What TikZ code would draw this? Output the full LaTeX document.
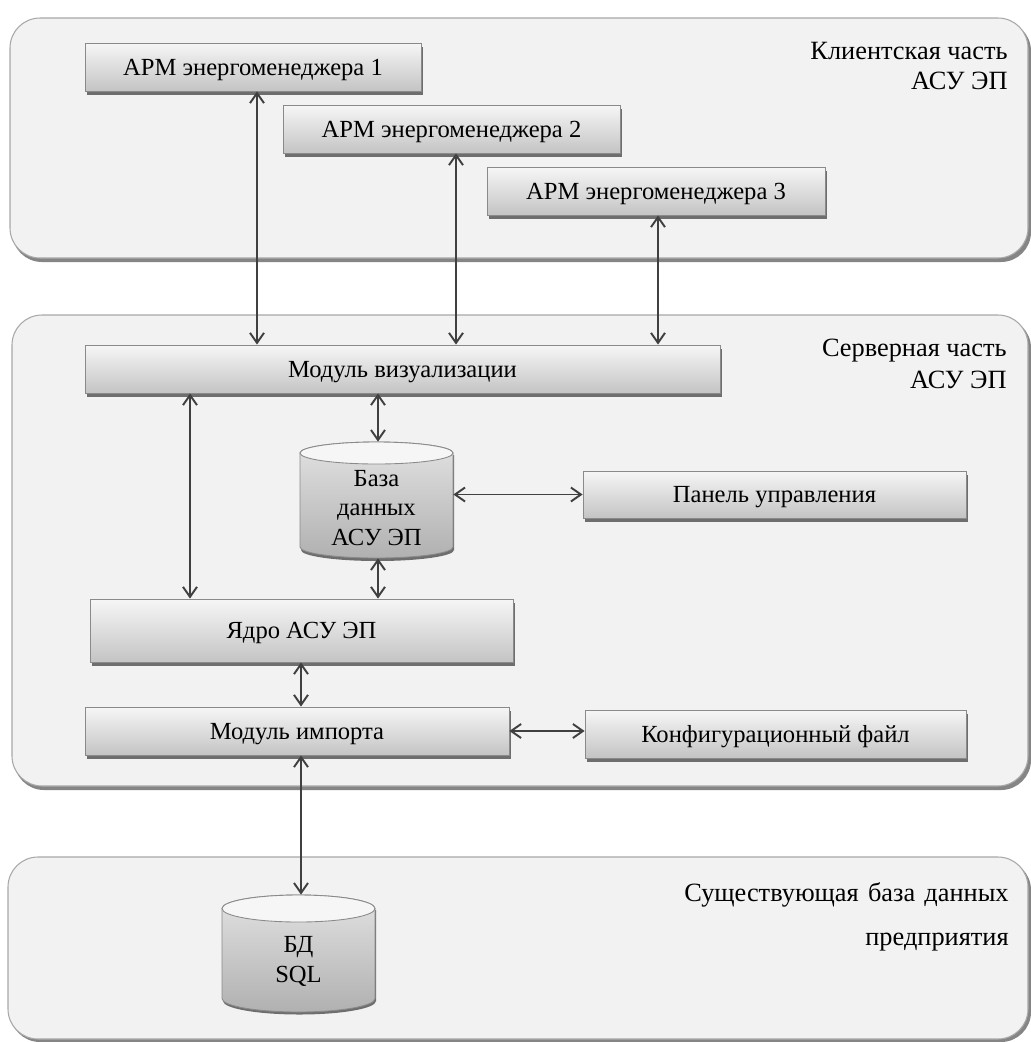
\documentclass[tikz,border=0pt]{standalone}
\usepackage{fontspec}
\setmainfont{Liberation Serif}
\usetikzlibrary{arrows.meta,shadows}
\definecolor{panelfill}{HTML}{F2F2F2}
\definecolor{paneledge}{HTML}{A8A8A8}
\definecolor{panelshade}{HTML}{858585}
\definecolor{boxedge}{HTML}{8A8A8A}
\definecolor{boxtop}{HTML}{F6F6F6}
\definecolor{boxbot}{HTML}{C4C4C4}
\definecolor{boxshade}{HTML}{6E6E6E}
\definecolor{arrowcol}{HTML}{404040}
\begin{document}
\begin{tikzpicture}[x=0.02cm,y=-0.02cm,
  panelbg/.style={fill=panelshade,rounded corners=0.6cm},
  panel/.style={draw=paneledge,line width=0.6pt,fill=panelfill,rounded corners=0.6cm},
  blk/.style={draw=boxedge,line width=0.5pt,top color=boxtop,bottom color=boxbot,
    inner sep=0pt,font=\fontsize{14}{16}\selectfont,text height=11.5pt,text depth=2.2pt,
    drop shadow={shadow xshift=1.2pt,shadow yshift=-2.2pt,fill=boxshade,opacity=1}},
  lnk/.style={draw=arrowcol,line width=1.1pt,
    {Straight Barb[length=2mm,width=2.8mm,line width=1.1pt]}-{Straight Barb[length=2mm,width=2.8mm,line width=1.1pt]}},
  ptitle/.style={font=\fontsize{15}{17}\selectfont,anchor=east,inner sep=0pt},
  cyltext/.style={font=\fontsize{14}{17}\selectfont,align=center,inner sep=0pt},
  cylbody/.style={draw=boxedge,line width=0.5pt,top color=boxtop!60!boxbot,bottom color=boxbot!90!black},
  cyltop/.style={draw=boxedge,line width=0.5pt,fill=boxtop}
]
\useasboundingbox (0,0) rectangle (1031,1042);
\fill[white] (0,0) rectangle (1031,1042);

% ---------- panels ----------
\fill[panelbg] (12,21) rectangle (1031,262);
\draw[panel] (10,18) rectangle (1028,258);
\fill[panelbg] (14,318) rectangle (1031,790);
\draw[panel] (12,315) rectangle (1028,786);
\fill[panelbg] (10,860) rectangle (1031,1042);
\draw[panel] (8,857) rectangle (1028,1039);

% panel titles
\node[ptitle] (t1a) at (1008,51) {Клиентская часть};
\node[ptitle] (t1b) at (1008,81) {АСУ ЭП};
\node[ptitle] (t2a) at (1007,351) {Серверная часть};
\node[ptitle] (t2b) at (1007,380) {АСУ ЭП};
\node[ptitle] (t3a) at (1009,895) {Существующая\hspace{0.35em}база\hspace{0.35em}данных};
\node[ptitle] (t3b) at (1009,942) {предприятия};

% ---------- boxes ----------
\node[blk,minimum width=6.72cm,minimum height=0.96cm] (a1) at (253,67) {АРМ энергоменеджера 1};
\node[blk,minimum width=6.74cm,minimum height=0.96cm] (a2) at (451.5,129) {АРМ энергоменеджера 2};
\node[blk,minimum width=6.76cm,minimum height=0.96cm] (a3) at (656,191) {АРМ энергоменеджера 3};
\node[blk,minimum width=12.7cm,minimum height=0.96cm] (viz) at (402.5,369) {Модуль визуализации};
\node[blk,minimum width=7.66cm,minimum height=0.94cm] (pan) at (774.5,494.5) {Панель управления};
\node[blk,minimum width=8.46cm,minimum height=1.26cm] (core) at (301.5,630.5) {Ядро АСУ ЭП};
\node[blk,minimum width=8.48cm,minimum height=0.96cm] (imp) at (297,731) {Модуль импорта};
\node[blk,minimum width=7.62cm,minimum height=0.96cm] (conf) at (775.5,734) {Конфигурационный файл};

% ---------- cylinder: server DB ----------
\fill[boxshade] (301,455) -- (301,550) arc[start angle=180,end angle=0,x radius=76.5,y radius=11] -- (454,455) -- cycle;
\path[cylbody] (300,453) -- (300,547) arc[start angle=180,end angle=0,x radius=76.5,y radius=11]
  -- (453,453) arc[start angle=0,end angle=-180,x radius=76.5,y radius=11] -- cycle;
\path[cyltop] (376.5,453) ellipse[x radius=76.5,y radius=11];
\node[inner sep=0pt,minimum width=3.06cm,minimum height=2.32cm] (db) at (376.5,500) {};
\node[cyltext] (dbt) at (376.5,508) {База\\данных\\АСУ ЭП};

% ---------- cylinder: SQL DB ----------
\fill[boxshade] (223,910) -- (223,1001) arc[start angle=180,end angle=0,x radius=76.5,y radius=13.5] -- (376,910) -- cycle;
\path[cylbody] (222,908.5) -- (222,998.5) arc[start angle=180,end angle=0,x radius=76.5,y radius=13.5]
  -- (375,908.5) arc[start angle=0,end angle=-180,x radius=76.5,y radius=13.5] -- cycle;
\path[cyltop] (298.5,908.5) ellipse[x radius=76.5,y radius=13.5];
\node[inner sep=0pt,minimum width=3.06cm,minimum height=2.34cm] (sql) at (298.5,953.5) {};
\node[cyltext] (sqlt) at (298.5,961) {БД\\SQL};

% ---------- connectors ----------
\coordinate (c1) at (257,0);
\coordinate (c2) at (456,0);
\coordinate (c3) at (658,0);
\coordinate (c4) at (190,0);
\coordinate (c5) at (378,0);
\coordinate (c6) at (301,0);
\draw[lnk] (c1 |- a1.south) -- (c1 |- viz.north);
\draw[lnk] (c2 |- a2.south) -- (c2 |- viz.north);
\draw[lnk] (c3 |- a3.south) -- (c3 |- viz.north);
\draw[lnk] (c4 |- viz.south) -- (c4 |- core.north);
\draw[lnk] (c5 |- viz.south) -- (c5 |- db.north);
\draw[lnk] (c5 |- db.south) -- (c5 |- core.north);
\draw[lnk] (db.east |- pan.west) -- (pan.west);
\draw[lnk] (c6 |- core.south) -- (c6 |- imp.north);
\draw[lnk] (imp.east) -- (imp.east -| conf.west);
\draw[lnk] (c6 |- imp.south) -- (c6 |- sql.north);
\end{tikzpicture}
\end{document}
